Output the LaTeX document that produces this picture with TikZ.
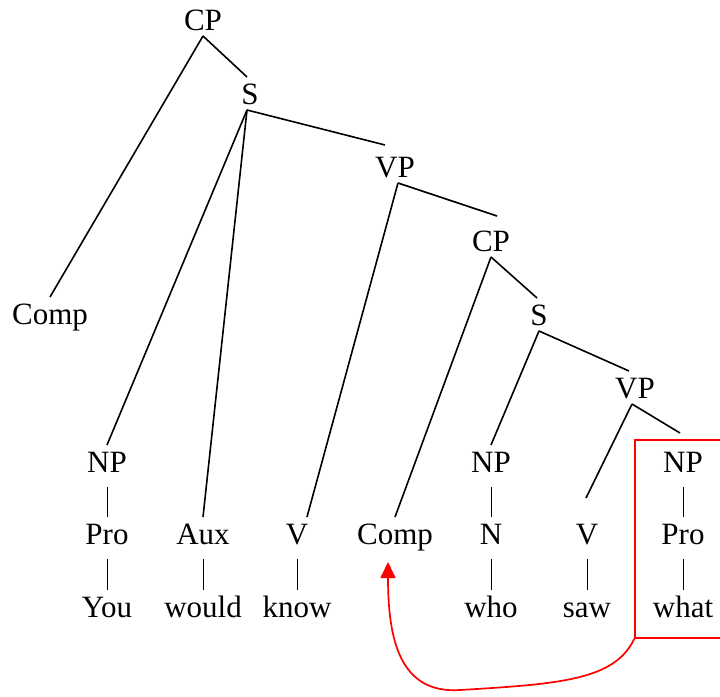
\documentclass[tikz,border=0pt]{standalone}
\usepackage{fontspec}
\setmainfont{Liberation Serif}
\usetikzlibrary{arrows.meta}
\begin{document}
\begin{tikzpicture}[x=1pt,y=-1pt,
  lbl/.style={font=\fontsize{31pt}{34pt}\selectfont, anchor=base, inner sep=0pt,
    text height=21pt, text depth=0pt, outer ysep=6pt},
  branch/.style={line width=1.6pt},
  bar/.style={line width=0.9pt, shorten <=9pt},
  movebox/.style={draw=red, line width=1.5pt, minimum width=96pt, minimum height=198pt, inner sep=0pt},
  movearrow/.style={red, line width=1.7pt, -{Triangle[length=16pt,width=15pt]}}
]
\clip (0,0) rectangle (720,696);
% tree nodes
\node[lbl] (cp1) at (203,30) {CP};
\node[lbl] (s1) at (250,104) {S};
\node[lbl] (vp1) at (395,177) {VP};
\node[lbl] (cp2) at (491,251) {CP};
\node[lbl] (comp1) at (50,324) {Comp};
\node[lbl] (s2) at (539,325) {S};
\node[lbl] (vp2) at (635,398) {VP};
\node[lbl] (np1) at (107,472) {NP};
\node[lbl] (np2) at (491,472) {NP};
\node[lbl] (np3) at (683,472) {NP};
\node[lbl] (pro1) at (107,544) {Pro};
\node[lbl] (aux) at (203,544) {Aux};
\node[lbl] (v1) at (297,544) {V};
\node[lbl] (comp2) at (395,544) {Comp};
\node[lbl] (n) at (491,544) {N};
\node[lbl] (v2) at (587,544) {V};
\node[lbl] (pro2) at (683,544) {Pro};
\node[lbl] (you) at (107,617) {You};
\node[lbl] (would) at (203,617) {would};
\node[lbl] (know) at (297,617) {know};
\node[lbl] (who) at (491,617) {who};
\node[lbl] (saw) at (587,617) {saw};
\node[lbl] (what) at (683,617) {what};
% branches
\draw[branch] (cp1.south) -- (comp1.north);
\draw[branch] (cp1.south) -- ([xshift=-3pt]s1.north);
\draw[branch] ([xshift=-3pt]s1.south) -- (np1.north);
\draw[branch] ([xshift=-3pt]s1.south) -- (aux.north);
\draw[branch] ([xshift=-3pt]s1.south) -- ([xshift=-10pt,yshift=5pt]vp1.north);
\draw[branch] ([xshift=3pt]vp1.south) -- ([xshift=10pt]v1.north);
\draw[branch] ([xshift=3pt]vp1.south) -- ([xshift=6pt,yshift=8pt]cp2.north);
\draw[branch] (cp2.south) -- (comp2.north);
\draw[branch] (cp2.south) -- ([xshift=-2pt]s2.north);
\draw[branch] (s2.south) -- (np2.north);
\draw[branch] (s2.south) -- ([xshift=-6pt]vp2.north);
\draw[branch] ([xshift=-3pt]vp2.south) -- ([xshift=-1pt,yshift=19pt]v2.north);
\draw[branch] ([xshift=-3pt]vp2.south) -- ([xshift=-3pt,yshift=12pt]np3.north);
% unary bars
\draw[bar] (np1.south) -- (pro1.north);
\draw[bar] (pro1.south) -- (you.north);
\draw[bar] (aux.south) -- (would.north);
\draw[bar] (v1.south) -- (know.north);
\draw[bar] (np2.south) -- (n.north);
\draw[bar] (n.south) -- (who.north);
\draw[bar] (v2.south) -- (saw.north);
\draw[bar] (np3.south) -- (pro2.north);
\draw[bar] (pro2.south) -- (what.north);
% movement
\node[movebox] (box) at (683,539) {};
\draw[movearrow] (box.south west) .. controls (615,680) and (560,684) .. (460,690)
  .. controls (400,694) and (388,640) .. ([xshift=-7pt,yshift=-18pt]comp2.base);
\end{tikzpicture}
\end{document}
